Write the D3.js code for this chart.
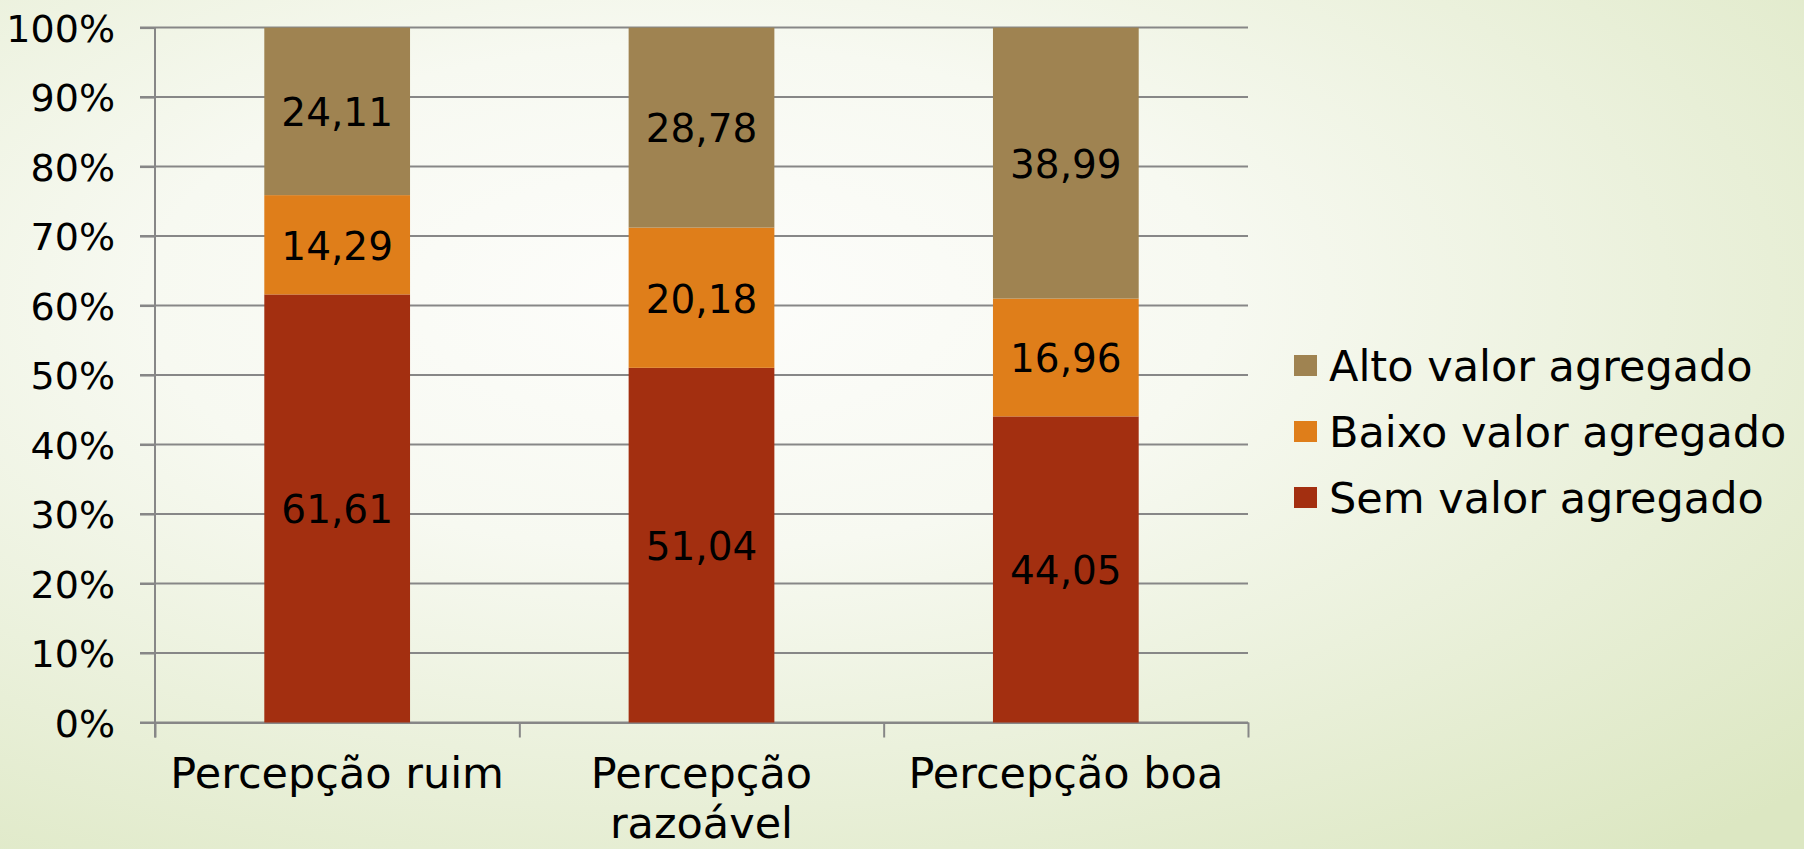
<!DOCTYPE html>
<html>
<head>
<meta charset="utf-8">
<style>
    html, body { margin: 0; padding: 0; }
    body { width: 1804px; height: 849px; overflow: hidden; }
    svg text { font-family: "Century Gothic", "URW Gothic", "DejaVu Sans", sans-serif; fill: #000; }
    .grid line { stroke: #878787; stroke-width: 2; }
    .axis path, .axis line { stroke: #878787; stroke-width: 2; }
</style>
</head>
<body>
<svg id="chart"></svg>
<script src="https://cdn.jsdelivr.net/npm/d3@7"></script>
<script>
    const categories = ["Percepção ruim", "Percepção razoável", "Percepção boa"];
    const seriesNames = ["Sem valor agregado", "Baixo valor agregado", "Alto valor agregado"];
    const semValor = [61.61, 51.04, 44.05];
    const baixoValor = [14.29, 20.18, 16.96];
    const altoValor = [24.11, 28.78, 38.99];
    const yTicks = [0, 0.1, 0.2, 0.3, 0.4, 0.5, 0.6, 0.7, 0.8, 0.9, 1];
    const colors = ["#a32f10", "#df7e1a", "#9f8351"];

    const width = 1804, height = 849;
    const margin = { top: 27.6, left: 155, right: 556, bottom: 126.5 };
    const w = width - margin.left - margin.right;
    const h = height - margin.top - margin.bottom;
    const numSize = 38;   // digits
    const wordSize = 43;  // words

    const svg = d3.select("#chart").attr("width", width).attr("height", height);

    // background
    const defs = svg.append("defs");
    const grad = defs.append("radialGradient").attr("id", "bg")
        .attr("cx", "38%").attr("cy", "35%").attr("r", "85%");
    grad.append("stop").attr("offset", "0%").attr("stop-color", "#fdfdfb");
    grad.append("stop").attr("offset", "35%").attr("stop-color", "#f7f9f1");
    grad.append("stop").attr("offset", "100%").attr("stop-color", "#dce7c2");
    svg.append("rect").attr("width", width).attr("height", height).attr("fill", "url(#bg)");

    const g = svg.append("g").attr("transform", `translate(${margin.left},${margin.top})`);

    const rows = categories.map((c, i) => ({
        cat: c, sem: semValor[i], baixo: baixoValor[i], alto: altoValor[i]
    }));
    const keys = ["sem", "baixo", "alto"];
    const stacked = d3.stack().keys(keys)
        .offset(d3.stackOffsetExpand)(rows);

    const x = d3.scaleBand().domain(categories).range([0, w])
        .paddingInner(0.6).paddingOuter(0.3);
    const y = d3.scaleLinear().domain([0, 1]).range([h, 0]);

    // gridlines
    g.append("g").attr("class", "grid")
        .selectAll("line").data(yTicks).join("line")
        .attr("x1", -15).attr("x2", w)
        .attr("y1", d => y(d)).attr("y2", d => y(d));

    // y axis
    const yAxis = g.append("g").attr("class", "axis")
        .call(d3.axisLeft(y).tickValues(yTicks).tickFormat(d3.format(".0%")).tickSize(15).tickPadding(25).tickSizeOuter(0));
    yAxis.select(".domain").attr("d", `M0,0V${h + 15}`);
    yAxis.selectAll("text").style("font-size", numSize + "px").attr("dy", "0.36em");

    // x axis ticks at band edges
    const xEdges = d3.scaleLinear().domain([0, categories.length]).range([0, w]);
    g.append("g").attr("class", "axis")
        .attr("transform", `translate(0,${h})`)
        .call(d3.axisBottom(xEdges).ticks(categories.length).tickFormat("").tickSize(15).tickSizeOuter(0));

    // bars
    const layer = g.selectAll(".layer").data(stacked).join("g")
        .attr("class", "layer")
        .attr("fill", (d, i) => colors[i]);
    layer.selectAll("rect").data(d => d).join("rect")
        .attr("x", d => x(d.data.cat))
        .attr("width", x.bandwidth())
        .attr("y", d => y(d[1]))
        .attr("height", d => y(d[0]) - y(d[1]));

    // value labels
    const fmt = v => d3.format(".2f")(v).replace(".", ",");
    layer.selectAll("text").data((d, i) => d.map(p => ({ p, key: keys[i] }))).join("text")
        .attr("x", d => x(d.p.data.cat) + x.bandwidth() / 2)
        .attr("y", d => y((d.p[0] + d.p[1]) / 2))
        .attr("dy", "0.38em")
        .attr("text-anchor", "middle")
        .style("font-size", (numSize + 1) + "px")
        .text(d => fmt(d.p.data[d.key]));

    // category labels, wrapped to band step
    const catLabels = g.append("g").selectAll("text").data(categories).join("text")
        .attr("x", d => x(d) + x.bandwidth() / 2)
        .attr("y", h + 66)
        .attr("text-anchor", "middle")
        .style("font-size", wordSize + "px")
        .text(d => d);
    catLabels.each(function (d) {
        const t = d3.select(this);
        if (this.getComputedTextLength() > x.step() - 10) {
            const words = d.split(" ");
            t.text(null);
            words.forEach((wd, i) => {
                t.append("tspan").attr("x", x(d) + x.bandwidth() / 2)
                    .attr("dy", i === 0 ? 0 : 50).text(wd);
            });
        }
    });

    // legend
    const legendItems = seriesNames.map((n, i) => ({ n, c: colors[i] })).reverse();
    const legend = svg.append("g").attr("transform", "translate(1294,355)");
    const li = legend.selectAll("g").data(legendItems).join("g")
        .attr("transform", (d, i) => `translate(0,${i * 66})`);
    li.append("rect").attr("width", 23).attr("height", 21).attr("fill", d => d.c);
    li.append("text").attr("x", 35).attr("y", 11).attr("dy", "0.36em")
        .style("font-size", wordSize + "px").text(d => d.n);
</script>
</body>
</html>
